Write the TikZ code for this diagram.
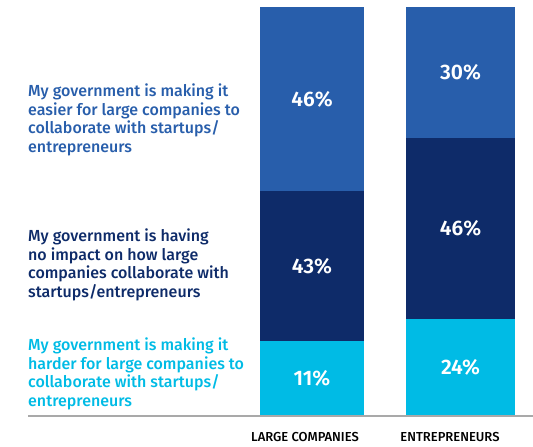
\documentclass[tikz,border=0pt]{standalone}
\usepackage{fontspec}
\setmainfont{Fira Sans}[BoldFont={* Medium}]
\newfontfamily\pctfont{Fira Sans SemiBold}
\usetikzlibrary{positioning}
\definecolor{easyblue}{HTML}{285EAB}
\definecolor{noneblue}{HTML}{0E2B69}
\definecolor{hardblue}{HTML}{00BBE5}
\definecolor{axisgray}{HTML}{A9A9A9}

\begin{document}
\begin{tikzpicture}[x=1pt,y=-1pt,
  seg/.style={rectangle,inner sep=0pt,outer sep=0pt,text=white,
    font=\pctfont\fontsize{21}{24}\selectfont},
  answer/.style={anchor=west,align=left,inner sep=0pt,
    font=\bfseries\fontsize{16}{18.5}\selectfont},
  category/.style={inner sep=0pt,font=\bfseries\fontsize{13}{15}\selectfont}]
  \useasboundingbox (0,0) rectangle (533,447);

  \node[seg,fill=hardblue,minimum width=104pt,minimum height=74pt,anchor=south west] (hardLC) at (260,415) {11\%};
  \node[seg,fill=noneblue,minimum width=104pt,minimum height=150pt] (noneLC) [above=0pt of hardLC] {43\%};
  \node[seg,fill=easyblue,minimum width=104pt,minimum height=184pt] (easyLC) [above=0pt of noneLC] {46\%};

  \node[seg,fill=hardblue,minimum width=109pt,minimum height=96pt,anchor=south west] (hardEN) at (406,415) {24\%};
  \node[seg,fill=noneblue,minimum width=109pt,minimum height=181pt] (noneEN) [above=0pt of hardEN] {46\%};
  \node[seg,fill=easyblue,minimum width=109pt,minimum height=131pt] (easyEN) [above=0pt of noneEN] {30\%};

  \node[answer,text=easyblue] (easyTxt) at (28,120)
    {My government is making it\\easier for large companies to\\collaborate with startups/\\entrepreneurs};
  \node[answer,text=noneblue] (noneTxt) at (28,265)
    {My government is having\\no impact on how large\\companies collaborate with\\startups/entrepreneurs};
  \node[answer,text=hardblue] (hardTxt) at (28,374)
    {My government is making it\\harder for large companies to\\collaborate with startups/\\entrepreneurs};

  \coordinate (axisL) at (28,416);
  \coordinate (axisR) at (533,416);
  \draw[axisgray,line width=1.5pt] (axisL) -- (axisR);

  \node[category] (catLC) at (305,437) {LARGE COMPANIES};
  \node[category] (catEN) at (450,437) {ENTREPRENEURS};
\end{tikzpicture}
\end{document}
